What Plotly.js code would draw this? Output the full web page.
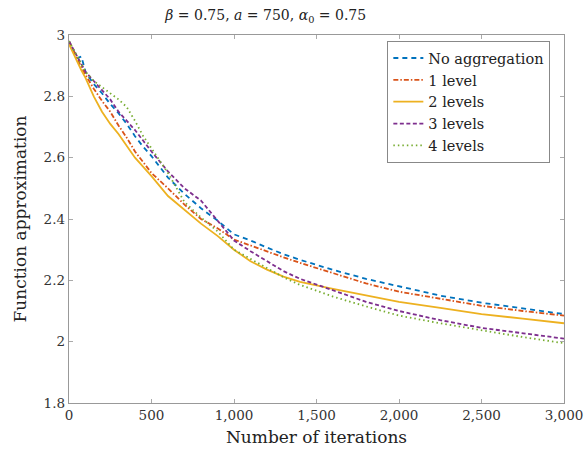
<!DOCTYPE html>
<html>
<head>
<meta charset="utf-8">
<script src="https://cdn.plot.ly/plotly-3.0.1.min.js"></script>
<style>html,body{margin:0;padding:0;background:#fff;}#chart{width:584px;height:456px;}</style>
</head>
<body>
<div id="chart"></div>
<script>
const iterations = [0, 50, 75, 100, 150, 200, 250, 300, 350, 400, 450, 500, 600, 700, 800, 900, 1000, 1100, 1200, 1300, 1400, 1600, 1800, 2000, 2250, 2500, 2750, 3000];
const noAggregation = [2.98, 2.925, 2.93, 2.88, 2.84, 2.81, 2.775, 2.745, 2.71, 2.67, 2.635, 2.605, 2.535, 2.482, 2.435, 2.395, 2.35, 2.33, 2.307, 2.285, 2.267, 2.234, 2.205, 2.18, 2.15, 2.127, 2.108, 2.09];
const level1 = [2.98, 2.92, 2.895, 2.87, 2.825, 2.785, 2.75, 2.705, 2.665, 2.62, 2.585, 2.55, 2.50, 2.447, 2.40, 2.37, 2.333, 2.313, 2.295, 2.275, 2.257, 2.224, 2.19, 2.163, 2.14, 2.117, 2.10, 2.085];
const level2 = [2.97, 2.91, 2.885, 2.86, 2.80, 2.75, 2.71, 2.677, 2.64, 2.60, 2.57, 2.54, 2.475, 2.43, 2.385, 2.345, 2.30, 2.262, 2.235, 2.212, 2.195, 2.172, 2.152, 2.13, 2.11, 2.09, 2.075, 2.06];
const level3 = [2.98, 2.93, 2.905, 2.88, 2.85, 2.82, 2.79, 2.75, 2.72, 2.69, 2.655, 2.62, 2.555, 2.50, 2.46, 2.395, 2.33, 2.295, 2.262, 2.23, 2.205, 2.168, 2.13, 2.10, 2.07, 2.045, 2.028, 2.01];
const level4 = [2.98, 2.93, 2.905, 2.88, 2.85, 2.83, 2.81, 2.79, 2.765, 2.72, 2.67, 2.63, 2.55, 2.455, 2.405, 2.36, 2.30, 2.27, 2.24, 2.21, 2.185, 2.147, 2.115, 2.085, 2.06, 2.037, 2.015, 1.995];

const seriesNames = ['No aggregation', '1 level', '2 levels', '3 levels', '4 levels'];
const xTickVals = [0, 500, 1000, 1500, 2000, 2500, 3000];
const xTickText = ['0', '500', '1,000', '1,500', '2,000', '2,500', '3,000'];
const yTickVals = [1.8, 2, 2.2, 2.4, 2.6, 2.8, 3];
const yTickText = ['1.8', '2', '2.2', '2.4', '2.6', '2.8', '3'];

const seriesValues = [noAggregation, level1, level2, level3, level4];
const styles = [
  {color: '#0072BD', dash: '5px,4px'},
  {color: '#D95319', dash: '5px,2px,1.5px,2px'},
  {color: '#EDB120', dash: 'solid'},
  {color: '#7E2F8E', dash: '4px,2.5px'},
  {color: '#77AC30', dash: '1.5px,3px'}
];

const traces = seriesValues.map((vals, i) => ({
  x: iterations, y: vals, name: seriesNames[i], type: 'scatter', mode: 'lines',
  line: {color: styles[i].color, dash: styles[i].dash, width: 1.8}
}));

const font = 'DejaVu Serif';
const layout = {
  width: 584, height: 456,
  margin: {l: 69, r: 20, t: 35, b: 53},
  paper_bgcolor: '#fff', plot_bgcolor: '#fff',
  font: {family: font, color: '#222', size: 14},
  title: {text: '<i>β</i> = 0.75, <i>a</i> = 750, <i>α</i><sub>0</sub> = 0.75', x: 0.455, xanchor: 'center', y: 0.967, yanchor: 'middle', font: {family: font, size: 14, color: '#222'}},
  xaxis: {
    range: [0, 3000], tickvals: xTickVals, ticktext: xTickText,
    ticks: 'inside', ticklen: 4, tickcolor: '#aaa', showgrid: false, zeroline: false,
    showline: true, linecolor: '#999', linewidth: 1.2, mirror: 'ticks',
    ticklabeloverflow: 'allow',
    tickfont: {family: font, size: 13.5, color: '#333'},
    title: {text: 'Number of iterations', font: {family: font, size: 17, color: '#222'}, standoff: 8}
  },
  yaxis: {
    range: [1.8, 3], tickvals: yTickVals, ticktext: yTickText,
    ticks: 'inside', ticklen: 4, tickcolor: '#aaa', showgrid: false, zeroline: false,
    showline: true, linecolor: '#999', linewidth: 1.2, mirror: 'ticks',
    tickfont: {family: font, size: 13.5, color: '#333'},
    title: {text: 'Function approximation', font: {family: font, size: 17, color: '#222'}, standoff: 12}
  },
  legend: {
    x: 0.972, y: 0.984, xanchor: 'right', yanchor: 'top',
    bgcolor: '#fff', bordercolor: '#888', borderwidth: 1.2,
    font: {family: font, size: 14.5, color: '#222'},
    itemwidth: 30, tracegroupgap: 0
  },
  showlegend: true
};

Plotly.newPlot('chart', traces, layout, {displayModeBar: false, staticPlot: true});
</script>
</body>
</html>
